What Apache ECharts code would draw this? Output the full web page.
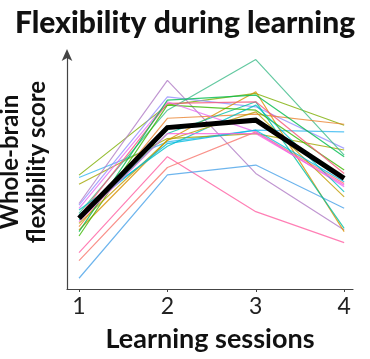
<!DOCTYPE html>
<html>
<head>
<meta charset="utf-8">
<script src="https://cdn.jsdelivr.net/npm/echarts@6/dist/echarts.min.js"></script>
<style>
html,body{margin:0;padding:0;background:#fff;}
#chart{width:370px;height:359px;}
</style>
</head>
<body>
<div id="chart"></div>
<script>
// Learning sessions (x categories)
var sessions = [1, 2, 3, 4];
var tickLabels = ['1', '2', '3', '4'];

// Individual subjects' whole-brain flexibility scores (arbitrary units), one array per subject
var subjectScores = [
  [47.7, 77.0, 81.9, 68.6],
  [46.7, 61.6, 66.5, 65.8],
  [43.9, 63.0, 65.1, 58.2],
  [35.8, 87.4, 48.4, 24.7],
  [35.1, 80.5, 76.3, 58.9],
  [31.7, 74.9, 96.1, 56.1],
  [26.1, 71.5, 73.2, 69.0],
  [24.7, 62.3, 82.6, 24.0],
  [15.2, 55.4, 32.4, 19.4],
  [11.9, 50.9, 65.8, 44.2],
  [4.5, 47.8, 51.9, 33.8],
  [28.9, 65.1, 78.4, 25.4],
  [22.2, 77.0, 74.9, 49.8],
  [30.3, 77.7, 78.4, 48.4],
  [33.8, 78.4, 65.8, 42.8],
  [33.1, 59.8, 77.0, 40.7],
  [27.5, 62.3, 74.2, 38.6],
  [24.0, 79.1, 81.2, 55.4],
  [31.0, 60.9, 66.5, 44.9],
  [28.2, 65.1, 65.1, 43.5]
];
var subjectColors = [
  '#7CAE00', '#35B8F0', '#A3A500', '#B07CC6', '#9590FF',
  '#3DBB8A', '#EA8331', '#D89000', '#FF5FA2', '#F8766D',
  '#4AA3E8', '#00C1A3', '#39B600', '#F5587A', '#E76BF3',
  '#00BFC4', '#C09B00', '#00BB4E', '#00BAE0', '#FA62DB'
];

// Group mean
var meanScores = [29.6, 67.6, 70.7, 46.3];

var series = [];
subjectScores.forEach(function (vals, i) {
  series.push({
    type: 'line',
    data: sessions.map(function (s, j) { return [s, vals[j]]; }),
    symbol: 'none',
    silent: true,
    lineStyle: { color: subjectColors[i], width: 1.2, opacity: 0.8 },
    z: 2
  });
});
series.push({
  type: 'line',
  data: sessions.map(function (s, j) { return [s, meanScores[j]]; }),
  symbol: 'none',
  silent: true,
  lineStyle: { color: '#000', width: 5, join: 'miter' },
  z: 5
});

var chart = echarts.init(document.getElementById('chart'));
chart.setOption({
  animation: false,
  backgroundColor: '#fff',
  title: {
    text: 'Flexibility during learning',
    left: 'center',
    top: 3,
    textStyle: { fontFamily: 'Lato', fontWeight: 900, fontSize: 30, color: '#111' }
  },
  grid: { left: 67, right: 17, top: 55, bottom: 70 },
  xAxis: {
    type: 'value',
    min: 0.864,
    max: 4.1,
    splitLine: { show: false },
    axisLine: { lineStyle: { color: '#444', width: 1.2 } },
    axisTick: { show: true, customValues: sessions, length: 3, lineStyle: { color: '#444' } },
    axisLabel: {
      customValues: sessions,
      formatter: function (v) { return tickLabels[sessions.indexOf(Math.round(v))]; },
      fontFamily: 'Lato', fontSize: 23, color: '#222', margin: 6
    },
    name: 'Learning sessions',
    nameLocation: 'middle',
    nameGap: 37,
    nameTextStyle: { fontFamily: 'Lato', fontWeight: 'bold', fontSize: 27, color: '#111' }
  },
  yAxis: {
    type: 'value',
    min: 0,
    max: 98,
    splitLine: { show: false },
    axisTick: { show: false },
    axisLabel: { show: false },
    axisLine: {
      lineStyle: { color: '#444', width: 1.2 },
      symbol: ['none', 'arrow'],
      symbolSize: [8, 12],
      symbolOffset: [0, 6]
    }
  },
  graphic: [{
    type: 'text',
    x: 24,
    y: 162,
    rotation: Math.PI / 2,
    style: {
      text: 'Whole-brain\nflexibility score',
      font: 'bold 24px Lato',
      fill: '#111',
      textAlign: 'center',
      textVerticalAlign: 'middle',
      lineHeight: 27
    }
  }],
  series: series
});
</script>
</body>
</html>
